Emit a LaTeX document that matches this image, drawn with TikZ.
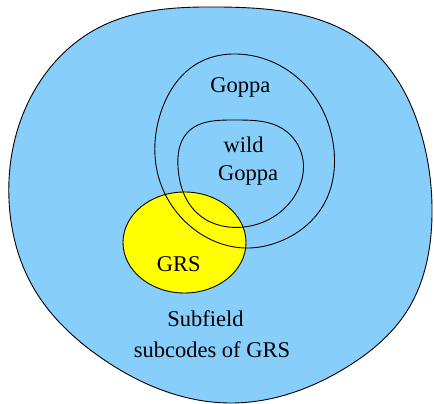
\documentclass[tikz,border=0pt]{standalone}
\usepackage{fontspec}
\setmainfont{Liberation Serif}
\usetikzlibrary{hobby}
\definecolor{skyfill}{HTML}{87CEFA}
\definecolor{grsfill}{HTML}{FFFF00}
\tikzset{
  region/.style={draw=black, line width=0.9pt},
  lbl/.style={anchor=base, inner sep=0pt, font=\fontsize{22.5}{27}\selectfont}
}
\begin{document}
\begin{tikzpicture}[x=1pt,y=-1pt]
\useasboundingbox (0,0) rectangle (434,404);
% outer blob
\draw[region, fill=skyfill, use Hobby shortcut, closed=true]
 (220,7) .. (364,43) .. (421,133) .. (432,215) .. (407,311) .. (347,367)
 .. (230,403) .. (100,357) .. (33,287) .. (9,200) .. (33,93) .. (100,27);
% GRS ellipse
\draw[region, fill=grsfill] (184.5,242.5) ellipse [x radius=61.5, y radius=50.5];
% Goppa outer loop
\draw[region, use Hobby shortcut, closed=true]
 (237,54) .. (307,87) .. (334,150) .. (324,204) .. (281,241) .. (245,248)
 .. (190,226) .. (158,175) .. (160,115) .. (200,62);
% wild Goppa loop
\draw[region, use Hobby shortcut, closed=true]
 (234,120) .. (283,129) .. (303,160) .. (294,197) .. (244,227) .. (197,213)
 .. (178,167) .. (187,133);
\node[lbl] (goppa) at (240.3,92.3) {Goppa};
\node[lbl] (wild) at (243.7,152.7) {wild};
\node[lbl] (wildgoppa) at (248,180) {Goppa};
\node[lbl] (grs) at (178.7,271.7) {GRS};
\node[lbl] (sub1) at (205.5,326.7) {Subfield};
\node[lbl] (sub2) at (212,357.3) {subcodes of GRS};
\end{tikzpicture}
\end{document}
